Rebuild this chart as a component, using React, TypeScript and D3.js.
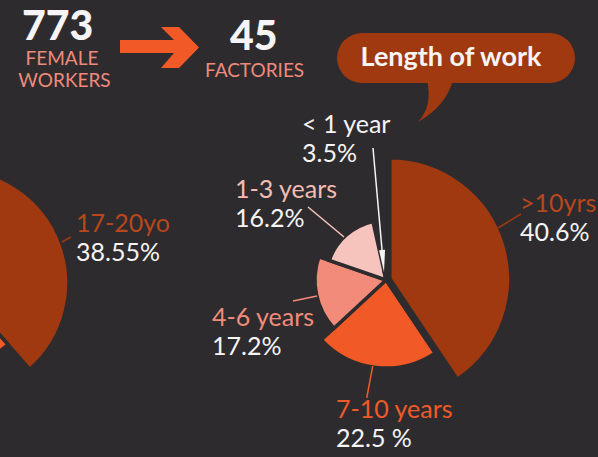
import React from "react";
import * as d3 from "d3";

// ---- data ----
const tenureLabels = [">10yrs", "7-10 years", "4-6 years", "1-3 years", "< 1 year"];
const tenureValues = [40.6, 22.5, 17.2, 16.2, 3.5];
const tenurePctText = ["40.6%", "22.5 %", "17.2%", "16.2%", "3.5%"];

const ageLabels = ["17-20yo", ""];
const ageValues = [38.55, 61.45];
const agePctText = ["38.55%", ""];

const headlineNumbers = ["773", "45"];
const headlineCaptions = [["FEMALE", "WORKERS"], ["FACTORIES"]];
const bubbleTitle = "Length of work";

// ---- styles / layout ----
const BG = "#2e2b2e";
const WHITE = "#f6f4f4";
const RUST = "#a0390f";
const ORANGE = "#f15a27";
const SALMON = "#f28b7a";
const PINK = "#f6c4bd";
const PALE = "#fbe3de";
const CAPTION = "#ee8a7c";

const tenureColors = [RUST, ORANGE, SALMON, PINK, PALE];
const tenureLabelColors = ["#b8471c", ORANGE, SALMON, "#f4bdb2", WHITE];
const tenureRadius = [121, 88, 71, 60, 8];
const tenureExplode = [4, 0, 0, 0, 0];
const tenureCenter = [386, 280];
const tenureLabelPos = [
  [520, 212],
  [336, 418],
  [212, 326],
  [235, 198],
  [302, 133],
];
const tenureLeaders = [
  [[498, 228], [521, 214]],
  [[372.7, 366], [366.7, 398]],
  [[317, 296], [293, 301]],
  [[344, 237], [308, 207]],
];

const ageColors = [RUST, ORANGE];
const ageRadius = [115, 82];
const ageCenter = [-46, 283];
const ageLabelPos = [[76, 232]];
const ageLeaders = [[[62, 242], [71, 237]]];

const FONT = "Lato, 'Open Sans', sans-serif";

export default function App() {
  const pie = d3
    .pie<number>()
    .sort(null)
    .value((d) => d)
    .startAngle(0)
    .endAngle(2 * Math.PI);

  const tenureArcs = pie(tenureValues);
  const ageArcs = pie(ageValues);

  const arcFor = (r: number) => d3.arc<d3.PieArcDatum<number>>().innerRadius(0).outerRadius(r);

  const offset = (a: d3.PieArcDatum<number>, dist: number) => {
    const mid = (a.startAngle + a.endAngle) / 2;
    return [Math.sin(mid) * dist, -Math.cos(mid) * dist];
  };

  // arrow for < 1 year
  const arrowStart = [373, 148];
  const arrowEnd = [384, 272];
  const ang = Math.atan2(arrowEnd[1] - arrowStart[1], arrowEnd[0] - arrowStart[0]);
  const headLen = 22;
  const headW = 3;
  const hx = arrowEnd[0] - Math.cos(ang) * headLen;
  const hy = arrowEnd[1] - Math.sin(ang) * headLen;
  const px = -Math.sin(ang) * headW;
  const py = Math.cos(ang) * headW;

  const line = d3.line();

  return (
    <div style={{ position: "absolute", left: 0, top: 0, width: 598, height: 457, overflow: "hidden" }}>
      <svg width={598} height={457} style={{ display: "block" }} fontFamily={FONT}>
        <rect x={0} y={0} width={598} height={457} fill={BG} />

        {/* left (age) pie */}
        <g transform={`translate(${ageCenter[0]},${ageCenter[1]})`}>
          {ageArcs.map((a, i) => (
            <path
              key={i}
              d={arcFor(ageRadius[i])(a) || ""}
              fill={ageColors[i]}
              stroke={BG}
              strokeWidth={3.5}
              strokeLinejoin="miter"
            />
          ))}
        </g>
        {ageLeaders.map((l, i) => (
          <path key={i} d={line(l as [number, number][]) || ""} stroke={ageColors[i]} strokeWidth={1.5} fill="none" />
        ))}
        {ageLabelPos.map((p, i) => (
          <g key={i}>
            <text x={p[0]} y={p[1]} fontSize={25} fill="#b8471c">{ageLabels[i]}</text>
            <text x={p[0]} y={p[1] + 29} fontSize={25} fill={WHITE}>{agePctText[i]}</text>
          </g>
        ))}

        {/* main (tenure) pie */}
        <g transform={`translate(${tenureCenter[0]},${tenureCenter[1]})`}>
          {tenureArcs.map((a, i) => {
            const [ox, oy] = offset(a, tenureExplode[i]);
            return (
              <path
                key={i}
                transform={`translate(${ox},${oy})`}
                d={arcFor(tenureRadius[i])(a) || ""}
                fill={tenureColors[i]}
                stroke={BG}
                strokeWidth={3.5}
                strokeLinejoin="miter"
              />
            );
          })}
        </g>
        {tenureLeaders.map((l, i) => (
          <path
            key={i}
            d={line(l as [number, number][]) || ""}
            stroke={tenureColors[i]}
            strokeWidth={1.5}
            fill="none"
          />
        ))}
        {/* arrow to < 1 year */}
        <line x1={arrowStart[0]} y1={arrowStart[1]} x2={hx} y2={hy} stroke={WHITE} strokeWidth={1.5} />
        <path
          d={`M${arrowEnd[0]},${arrowEnd[1]} L${hx + px},${hy + py} L${hx - px},${hy - py} Z`}
          fill={WHITE}
        />
        {tenureLabelPos.map((p, i) => (
          <g key={i}>
            <text x={p[0]} y={p[1]} fontSize={25} fill={tenureLabelColors[i]}>{tenureLabels[i]}</text>
            <text x={p[0]} y={p[1] + 29} fontSize={25} fill={WHITE}>{tenurePctText[i]}</text>
          </g>
        ))}

        {/* header */}
        <text x={22} y={40} fontSize={41} fontWeight={900} fill={WHITE}>{headlineNumbers[0]}</text>
        <text x={62} y={65} fontSize={19} fill={CAPTION} textAnchor="middle">{headlineCaptions[0][0]}</text>
        <text x={64.5} y={87} fontSize={19} fill={CAPTION} textAnchor="middle">{headlineCaptions[0][1]}</text>
        <path
          d="M120,40 L174,40 L161,27 L179,27 L199,47.5 L179,68 L161,68 L174,53 L120,53 Z"
          fill={ORANGE}
        />
        <text x={230} y={50} fontSize={41} fontWeight={900} fill={WHITE}>{headlineNumbers[1]}</text>
        <text x={205} y={77} fontSize={19} fill={CAPTION}>{headlineCaptions[1][0]}</text>

        {/* speech bubble */}
        <rect x={337} y={33} width={238} height={50} rx={25} ry={25} fill={RUST} />
        <path d="M427,80 Q433,106 418,122 Q446,106 453,80 Z" fill={RUST} />
        <text x={451} y={66} fontSize={27} fontWeight={700} fill={WHITE} textAnchor="middle">{bubbleTitle}</text>
      </svg>
    </div>
  );
}
